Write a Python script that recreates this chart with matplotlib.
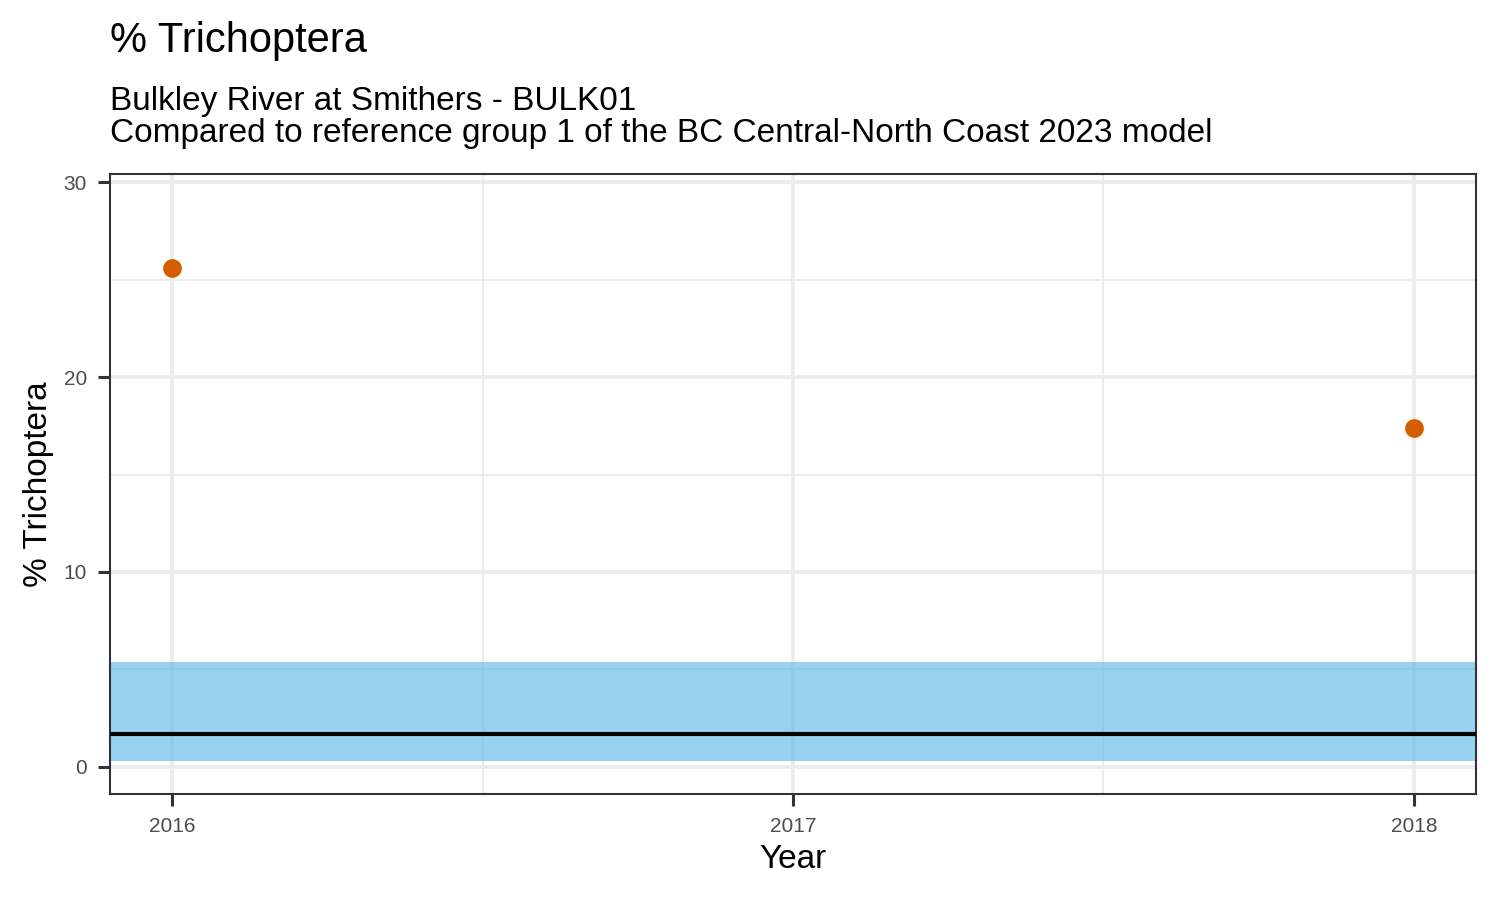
import numpy as np
import matplotlib.pyplot as plt

# data
years = [2016, 2018]
pct_trichoptera = [25.6, 17.4]

ref_lower = 0.3   # reference group band
ref_upper = 5.4
ref_median = 1.7

x_ticks = [2016, 2017, 2018]
y_ticks = [0, 10, 20, 30]

title = "% Trichoptera"
subtitle = ("Bulkley River at Smithers - BULK01\n"
            "Compared to reference group 1 of the BC Central-North Coast 2023 model")

plt.rcParams['font.family'] = ['Liberation Sans', 'DejaVu Sans']

fig = plt.figure(figsize=(15, 9), dpi=100)
ax = fig.add_axes([110 / 1500, 1 - 794 / 900, 1366 / 1500, 620 / 900])

# grid like theme_bw
ax.set_axisbelow(True)
ax.set_xticks(x_ticks)
ax.set_yticks(y_ticks)
ax.set_xticks([2016.5, 2017.5], minor=True)
ax.set_yticks([5, 15, 25], minor=True)
ax.grid(True, which='major', color='#EBEBEB', linewidth=2.6)
ax.grid(True, which='minor', color='#EBEBEB', linewidth=1.3)

# reference band and median line across full width
ax.axhspan(ref_lower, ref_upper, color='#56B4E9', alpha=0.6, linewidth=0, zorder=2)
ax.axhline(ref_median, color='black', linewidth=3.0, zorder=3)

ax.plot(years, pct_trichoptera, 'o', color='#D55E00', markersize=13.5,
        markeredgewidth=0, zorder=4)

ax.set_xlim(2015.9, 2018.1)
ax.set_ylim(-1.40, 30.43)

for side in ax.spines.values():
    side.set_color('#333333')
    side.set_linewidth(1.5)

ax.tick_params(which='major', length=8.5, width=2.2, color='#333333',
               labelsize=15, labelcolor='#4D4D4D', pad=8)
ax.tick_params(which='minor', length=0)

ax.set_xlabel('Year', fontsize=24, labelpad=6)
ax.set_ylabel('% Trichoptera', fontsize=24, labelpad=7)

fig.text(110 / 1500, 1 - 52 / 900, title, fontsize=30, va='baseline', ha='left')
fig.text(110 / 1500, 1 - 142 / 900, subtitle, fontsize=24, va='baseline',
         ha='left', linespacing=1.05)

fig.savefig('out.png', dpi=100)
